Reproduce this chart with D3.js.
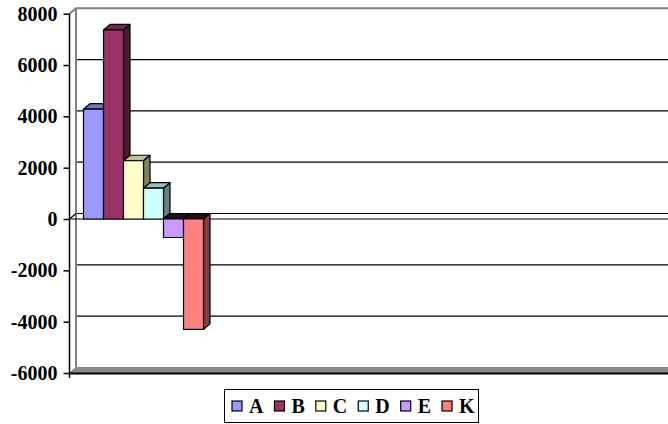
<!DOCTYPE html>
<html>
<head>
<meta charset="utf-8">
<script src="https://cdn.jsdelivr.net/npm/d3@7"></script>
<style>
  body { margin: 0; background: #fff; }
  svg { display: block; }
</style>
</head>
<body>
<svg id="chart" width="668" height="424"></svg>
<script>
const series = ["A", "B", "C", "D", "E", "K"];
const values = [4280, 7370, 2270, 1200, -720, -4300];
const colors = ["#9999FF", "#993366", "#FFFFCC", "#CCFFFF", "#CC99FF", "#FF8080"];
const yTicks = [-6000, -4000, -2000, 0, 2000, 4000, 6000, 8000];

const svg = d3.select("#chart");
const W = +svg.attr("width");

// 3d depth offset of the walls and bars
const dx = 6.5, dy = -5.5;
const axisX = 69.5;

const y = d3.scaleLinear()
  .domain([-6000, 8000])
  .range([373, 13.7]);

const x = d3.scaleBand()
  .domain(series)
  .range([axisX - 1, axisX + 149])
  .paddingInner(0)
  .paddingOuter(0.75);

const serif = "'Liberation Serif', 'Times New Roman', serif";

// back wall gridlines
svg.append("g")
  .selectAll("line")
  .data(yTicks.filter(t => t > -6000 && t < 8000))
  .join("line")
  .attr("x1", axisX + dx).attr("x2", W)
  .attr("y1", d => y(d) + dy).attr("y2", d => y(d) + dy)
  .attr("stroke", "#000")
  .attr("stroke-width", 1.2);

// wall border (top and left edge)
svg.append("path")
  .attr("d", `M${axisX},${y(8000)} L${axisX + dx},${y(8000) + dy} L${W},${y(8000) + dy}
              M${axisX + dx},${y(8000) + dy} L${axisX + dx},${y(-6000) + dy}`)
  .attr("fill", "none")
  .attr("stroke", "#808080")
  .attr("stroke-width", 2);

// floor at the bottom
const yf = y(-6000);
svg.append("path")
  .attr("d", `M${axisX},${yf} L${axisX + dx},${yf + dy} L${W},${yf + dy} L${W},${yf} Z`)
  .attr("fill", "#8c8c8c")
  .attr("stroke", "#808080")
  .attr("stroke-width", 1);
svg.append("line")
  .attr("x1", axisX).attr("x2", W)
  .attr("y1", yf + 0.5).attr("y2", yf + 0.5)
  .attr("stroke", "#000").attr("stroke-width", 2);

// zero plane front edge
const y0 = y(0);
svg.append("path")
  .attr("d", `M${axisX},${y0} L${axisX + dx},${y0 + dy} M${axisX},${y0} L${W},${y0}`)
  .attr("fill", "none")
  .attr("stroke", "#000")
  .attr("stroke-width", 1.2);

// bars, drawn left to right so each front hides the previous side
const bars = svg.append("g")
  .selectAll("g")
  .data(series.map((s, i) => ({ s, v: values[i], c: colors[i] })))
  .join("g");

const shade = (c, k) => {
  const r = d3.rgb(c);
  return d3.rgb(r.r * k, r.g * k, r.b * k).formatHex();
};

bars.each(function (d) {
  const g = d3.select(this);
  const x0 = x(d.s), w = x.bandwidth();
  const yt = Math.min(y(d.v), y0), yb = Math.max(y(d.v), y0);
  const topK = d.v >= 0 ? 0.75 : 0.12;

  g.append("path")
    .attr("d", `M${x0},${yt} L${x0 + dx},${yt + dy} L${x0 + w + dx},${yt + dy} L${x0 + w},${yt} Z`)
    .attr("fill", shade(d.c, topK));
  g.append("path")
    .attr("d", `M${x0 + w},${yt} L${x0 + w + dx},${yt + dy} L${x0 + w + dx},${yb + dy} L${x0 + w},${yb} Z`)
    .attr("fill", shade(d.c, 0.5));
  g.append("rect")
    .attr("x", x0).attr("y", yt)
    .attr("width", w).attr("height", yb - yt)
    .attr("fill", d.c);
  g.selectAll("path, rect")
    .attr("stroke", "#000")
    .attr("stroke-width", 1.2)
    .attr("stroke-linejoin", "round");
});

// value axis
const axis = svg.append("g")
  .attr("transform", `translate(${axisX},0)`)
  .call(d3.axisLeft(y).tickValues(yTicks).tickFormat(d => String(d))
    .tickSize(6).tickSizeOuter(0).tickPadding(6));
axis.select(".domain").remove();
axis.selectAll(".tick line").attr("stroke", "#000").attr("stroke-width", 1.5);
axis.selectAll(".tick text")
  .attr("fill", "#000")
  .style("font-family", serif)
  .style("font-weight", "bold")
  .style("font-size", "20px");
svg.append("line")
  .attr("x1", axisX).attr("x2", axisX)
  .attr("y1", y(8000)).attr("y2", yf + 5)
  .attr("stroke", "#000").attr("stroke-width", 1.5);

// legend
const legend = svg.append("g");
legend.append("rect")
  .attr("x", 224.5).attr("y", 389.5)
  .attr("width", 254).attr("height", 33)
  .attr("fill", "#fff")
  .attr("stroke", "#000");

let lx = 232;
series.forEach((s, i) => {
  const item = legend.append("g").attr("transform", `translate(${lx},0)`);
  item.append("rect")
    .attr("x", 0).attr("y", 401)
    .attr("width", 10).attr("height", 10)
    .attr("fill", colors[i])
    .attr("stroke", "#000")
    .attr("stroke-width", 1.2);
  const t = item.append("text")
    .attr("x", 17).attr("y", 412.5)
    .style("font-family", serif)
    .style("font-weight", "bold")
    .style("font-size", "20px")
    .text(s);
  lx += 17 + t.node().getComputedTextLength() + 11;
});
</script>
</body>
</html>
